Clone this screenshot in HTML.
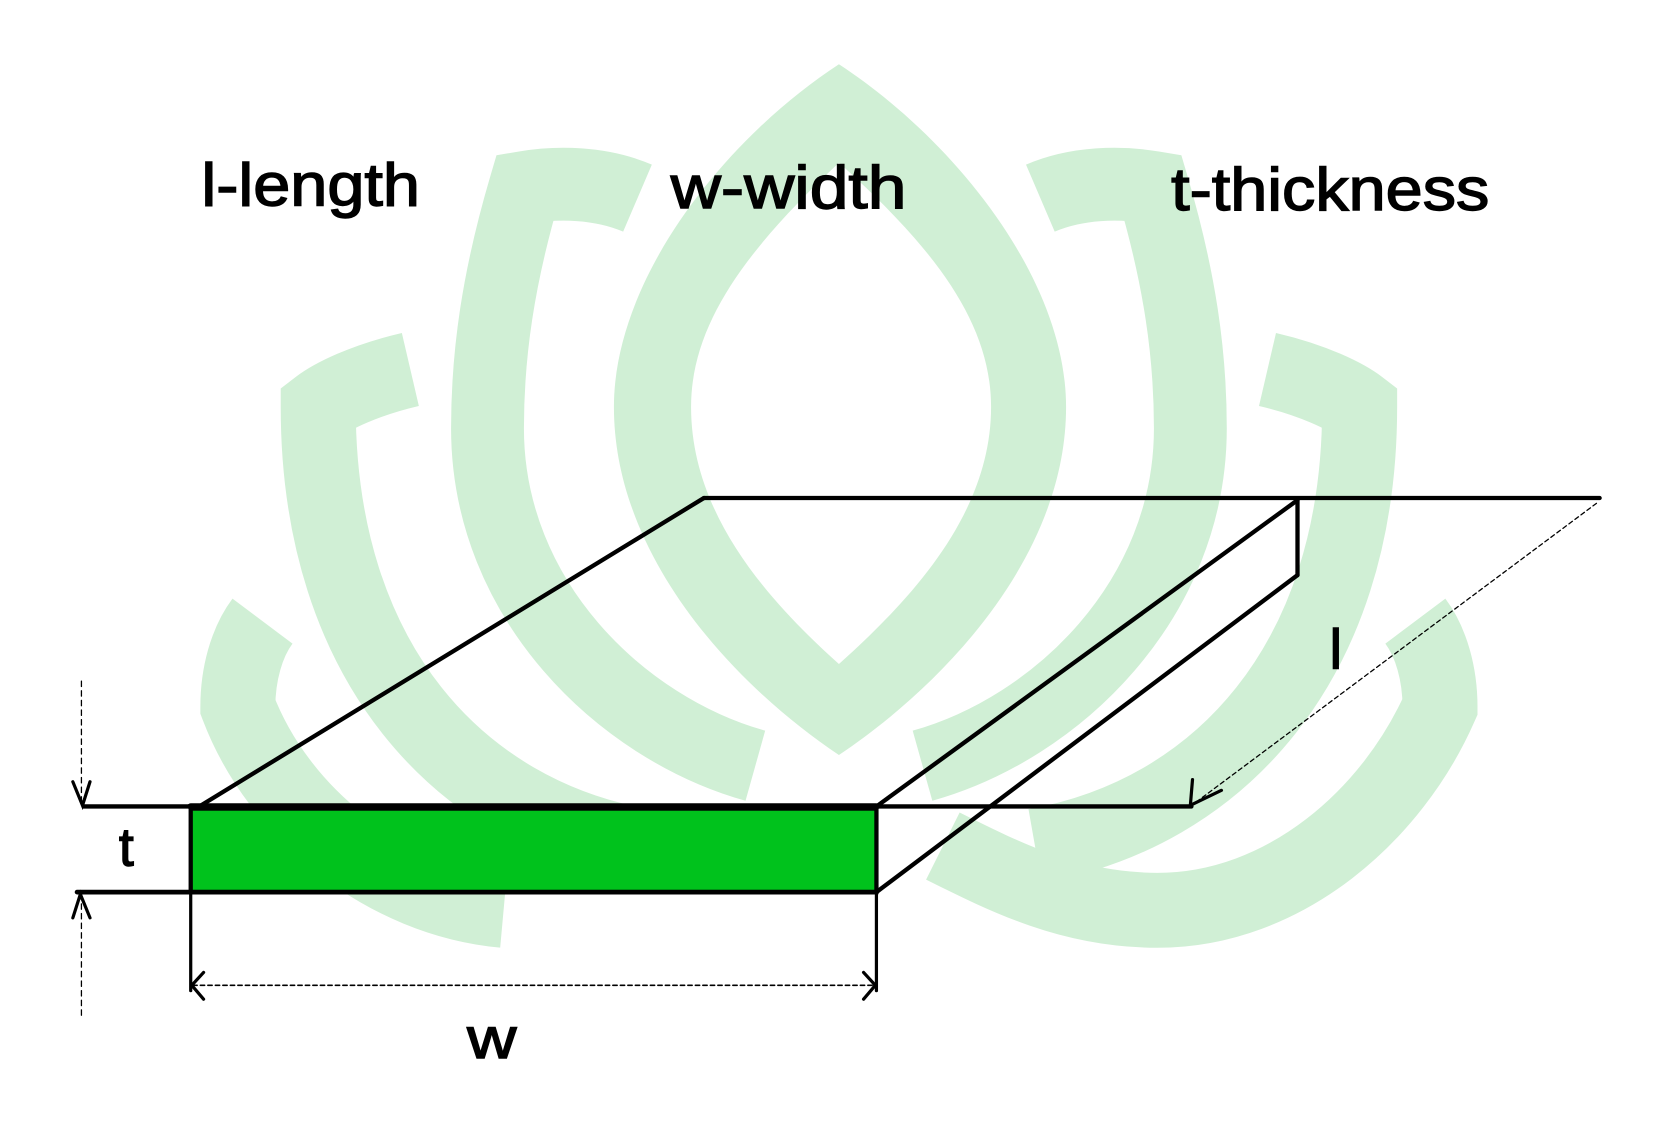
<!DOCTYPE html>
<html><head><style>
html,body{margin:0;padding:0;background:#fff;}
svg{display:block;}
text{font-family:"Liberation Sans",sans-serif;fill:#000;}
</style></head><body>
<svg width="1680" height="1132" viewBox="0 0 1568 1057" preserveAspectRatio="none">
<g fill="#d0efd5" stroke="none">
<path fill-rule="evenodd" d="M783,60 C890,130 995,260 995,380 C995,520 880,640 783,705 C686,640 573,520 573,380 C573,260 676,130 783,60 Z M783,152 C870,230 925,300 925,380 C925,480 850,560 783,620 C716,560 645,480 645,380 C645,300 700,230 783,152 Z"/>
</g>
<g fill="none" stroke="#d0efd5" stroke-linecap="butt">
<path d="M595,185 C560,170 520,170 490,175 C465,260 455,330 455,400 C455,560 580,680 705,715" stroke-width="68"/>
<path d="M971,185 C1006,170 1046,170 1076,175 C1101,260 1111,330 1111,400 C1111,560 986,680 861,715" stroke-width="68"/>
<path d="M383,345 C340,355 310,370 297,380 C297,620 430,760 600,790" stroke-width="70"/>
<path d="M1183,345 C1226,355 1256,370 1269,380 C1269,620 1136,760 966,790" stroke-width="70"/>
<path d="M245,580 C230,600 222,630 222,660 C260,760 360,840 470,850" stroke-width="70"/>
<path d="M1321,580 C1336,600 1344,630 1344,660 C1300,760 1200,850 1080,850 C1000,850 940,820 880,790" stroke-width="70"/>
</g>
<g stroke="#000" fill="none" stroke-linecap="round">
<rect x="178" y="755" width="640" height="78" fill="#00c21c" stroke="#000" stroke-width="4"/>
<line x1="657" y1="465" x2="1493" y2="465" stroke-width="4"/>
<line x1="657" y1="465" x2="186" y2="753" stroke-width="4"/>
<line x1="1211" y1="467" x2="1211" y2="537" stroke-width="4"/>
<line x1="1211" y1="467" x2="818" y2="753" stroke-width="4"/>
<line x1="1211" y1="537" x2="818" y2="833" stroke-width="4"/>
<line x1="78" y1="753" x2="1112" y2="753" stroke-width="4"/>
<line x1="178" y1="753" x2="818" y2="753" stroke-width="6"/>
<line x1="72" y1="833" x2="818" y2="833" stroke-width="4.5"/>
<line x1="178" y1="833" x2="178" y2="925" stroke-width="3"/>
<line x1="818" y1="833" x2="818" y2="925" stroke-width="3"/>
<line x1="180" y1="920" x2="816" y2="920" stroke-width="1.5" stroke-dasharray="4,3"/>
<polyline points="190,908 179,920 190,933" stroke-width="3"/>
<polyline points="806,908 817,920 806,933" stroke-width="3"/>
<line x1="76" y1="636" x2="76" y2="750" stroke-width="1.2" stroke-dasharray="5,4"/>
<polyline points="68,730 77,752 84,730" stroke-width="3"/>
<line x1="76" y1="835" x2="76" y2="948" stroke-width="1.2" stroke-dasharray="5,4"/>
<polyline points="68,857 75,835 84,857" stroke-width="3"/>
<line x1="1490" y1="470" x2="1115" y2="750" stroke-width="1.2" stroke-dasharray="4,3"/>
<polyline points="1113,728 1111,752 1140,738" stroke-width="3"/>
</g>
<g font-size="56" stroke="#000" stroke-width="1.3">
<text x="188" y="192" textLength="204" lengthAdjust="spacingAndGlyphs">l-length</text>
<text x="626" y="194" textLength="220" lengthAdjust="spacingAndGlyphs">w-width</text>
<text x="1093" y="196" textLength="297" lengthAdjust="spacingAndGlyphs">t-thickness</text>
<text x="111" y="808" font-size="50">t</text>
<text x="436" y="988" font-size="54" textLength="46" lengthAdjust="spacingAndGlyphs">w</text>
<text x="1241" y="624" font-size="52">l</text>
</g>
</svg>
</body></html>
